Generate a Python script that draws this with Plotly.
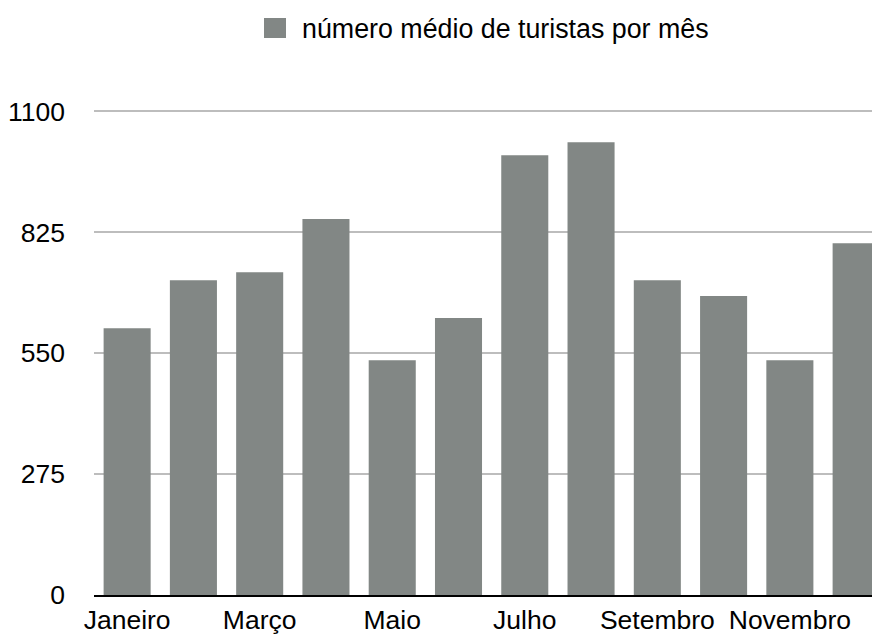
import plotly.graph_objects as go

months = ["Janeiro", "Fevereiro", "Março", "Abril", "Maio", "Junho",
          "Julho", "Agosto", "Setembro", "Outubro", "Novembro", "Dezembro"]
tourists = [607, 716, 734, 855, 534, 630, 1000, 1030, 716, 680, 534, 800]
series_name = "número médio de turistas por mês"
x_tick_labels = ["Janeiro", "Março", "Maio", "Julho", "Setembro", "Novembro"]
y_ticks = [0, 275, 550, 825, 1100]

BAR_COLOR = "#828785"
FONT = "Liberation Sans, Arial, Helvetica, sans-serif"
FS = 26.5

# page body has an 8px default margin, so the figure is laid out 8px in
OFF = 8
W, H = 880 - OFF, 634 - OFF
L, R, T, B = 94 - OFF, 0, 99, 39
pw, ph = W - L - R, H - T - B

fig = go.Figure()
fig.add_trace(go.Bar(x=months, y=tourists, name=series_name,
                     marker=dict(color=BAR_COLOR, line=dict(width=0)),
                     showlegend=False))


def px_to_paper(px, py):
    px -= OFF
    py -= OFF
    return (px - L) / pw, (H - B - py) / ph


x0, y0 = px_to_paper(264, 38)
x1, y1 = px_to_paper(286, 18)
fig.add_shape(type="rect", xref="paper", yref="paper", x0=x0, x1=x1, y0=y0, y1=y1,
              fillcolor=BAR_COLOR, line=dict(width=0))
tx, ty = px_to_paper(300, 29)
fig.add_annotation(text=series_name, xref="paper", yref="paper", x=tx, y=ty,
                   xanchor="left", yanchor="middle", showarrow=False,
                   font=dict(family=FONT, size=26.8, color="#000000"))

fig.update_layout(
    width=W, height=H,
    margin=dict(l=L, r=R, t=T, b=B, pad=0, autoexpand=False),
    paper_bgcolor="white", plot_bgcolor="white",
    bargap=0.29,
    font=dict(family=FONT, size=FS, color="#000000"),
    showlegend=False,
)
fig.update_xaxes(
    range=[-0.5, 11.36], categoryorder="array", categoryarray=months,
    tickmode="array", tickvals=x_tick_labels, ticktext=x_tick_labels,
    showgrid=False, showline=True, linecolor="#000000", linewidth=2,
    ticks="", ticklabelstandoff=0, automargin=False,
    tickfont=dict(family=FONT, size=FS, color="#000000"),
)
fig.update_yaxes(
    range=[0, 1110], tickmode="array", tickvals=y_ticks,
    showgrid=True, gridcolor="#bdbdbd", gridwidth=2, zeroline=False,
    showline=False, ticks="", ticklabelstandoff=28, automargin=False,
    tickfont=dict(family=FONT, size=FS, color="#000000"),
)

fig.write_html("out.html")
